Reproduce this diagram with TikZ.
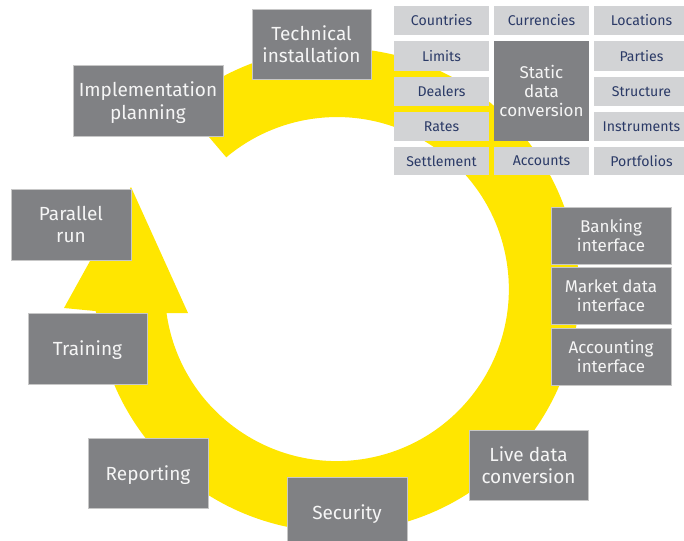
\documentclass[tikz,border=0pt]{standalone}
\usepackage{fontspec}
\setmainfont{Fira Sans}
\definecolor{eyyellow}{HTML}{FFE600}
\definecolor{boxgray}{HTML}{808184}
\definecolor{lightbox}{HTML}{D2D3D5}
\definecolor{navytext}{HTML}{2B3A67}
\newcommand\placebox[7]{\node[#1, minimum width={(#5-#3)*0.75pt}, minimum height={(#6-#4)*0.75pt}] (#2) at ({(#3+#5)/2},{(#4+#6)/2}) {#7};}
\begin{document}
\begin{tikzpicture}[x=0.75pt,y=-0.75pt,
  greybase/.style={fill=boxgray, draw=black!22, line width=0.6pt, text=white!96!black,
    align=center, inner sep=0pt},
  bigbox/.style={greybase, text depth=0pt, font=\fontsize{14.25}{17}\selectfont},
  midbox/.style={greybase, font=\fontsize{12.75}{14.4}\selectfont},
  smallbox/.style={fill=lightbox, text=navytext, inner sep=0pt,
    font=\fontsize{10.6}{13}\selectfont, align=center}]
\useasboundingbox (0,0) rectangle (684,540);
\clip (0,0) rectangle (684,540);
% ring arrow
\fill[eyyellow] (181.4,104.6) arc[start angle=-130, end angle=175, radius=242]
  -- (64,308) -- (131,187) -- (188,313) -- (166.5,313)
  arc[start angle=172, end angle=-130, radius=172] -- cycle;
% main steps
\placebox{bigbox}{tech}{252}{9}{371}{79}{Technical\\installation}
\placebox{bigbox}{impl}{73}{65}{223}{136}{Implementation\\planning}
\placebox{bigbox}{par}{11}{189}{131}{260}{Parallel\\run}
\placebox{bigbox}{train}{28}{313}{147}{384}{Training}
\placebox{bigbox}{rep}{88}{438}{208}{508}{Reporting}
\placebox{bigbox}{sec}{287}{477}{407}{548}{Security}
\placebox{bigbox}{live}{469}{430}{588}{500}{Live data\\conversion}
\placebox{midbox}{bank}{551}{207}{671}{264}{Banking\\interface}
\placebox{midbox}{mkt}{551}{267}{671}{324}{Market data\\interface}
\placebox{midbox}{acc}{551}{328}{671}{385}{Accounting\\interface}
% static data grid
\placebox{midbox, draw=none}{static}{494}{41}{589}{141}{Static\\data\\conversion}
\placebox{smallbox}{countries}{394}{6}{489}{35}{Countries}
\placebox{smallbox}{currencies}{494}{6}{589}{35}{Currencies}
\placebox{smallbox}{locations}{594}{6}{689}{35}{Locations}
\placebox{smallbox}{limits}{394}{41}{489}{71}{Limits}
\placebox{smallbox}{parties}{594}{41}{689}{71}{Parties}
\placebox{smallbox}{dealers}{394}{77}{489}{106}{Dealers}
\placebox{smallbox}{structure}{594}{77}{689}{106}{Structure}
\placebox{smallbox}{rates}{394}{112}{489}{141}{Rates}
\placebox{smallbox}{instruments}{594}{112}{689}{141}{Instruments}
\placebox{smallbox}{settlement}{394}{147}{489}{175}{Settlement}
\placebox{smallbox}{accounts}{494}{147}{589}{175}{Accounts}
\placebox{smallbox}{portfolios}{594}{147}{689}{175}{Portfolios}
\end{tikzpicture}
\end{document}
